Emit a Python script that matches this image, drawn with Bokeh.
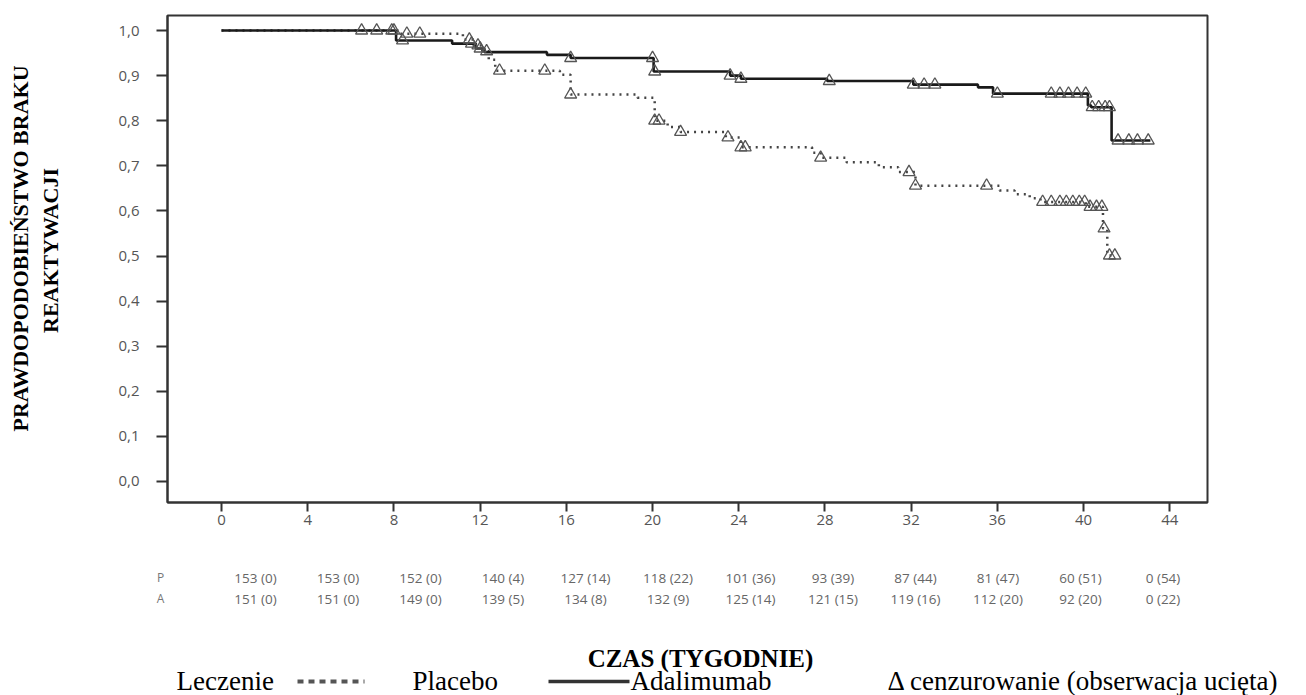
import math
import numpy as np
from bokeh.plotting import figure
from bokeh.layouts import row, column
from bokeh.models import Range1d, FixedTicker, CustomJSTickFormatter
from bokeh.core.properties import value
from bokeh.embed import file_html
from bokeh.resources import INLINE

# ---------------- data ----------------
adal_time = [0, 8.1, 10.7, 11.8, 12.2, 15.1, 16.2, 20.05, 23.6, 24.1, 28.1, 32.1, 35.1, 35.8, 40.2, 40.35, 41.3, 43.1]
adal_surv = [1.0, 0.978, 0.971, 0.960, 0.952, 0.946, 0.939, 0.909, 0.900, 0.893, 0.888, 0.880, 0.874, 0.860, 0.834, 0.830, 0.756, 0.756]
adal_censor = [8.0, 8.4, 11.6, 12.0, 16.2, 20.0, 20.1, 23.6, 24.1, 28.2, 32.1, 32.6, 33.1, 36.0,
               38.5, 38.9, 39.3, 39.7, 40.1, 40.4, 40.7, 41.0, 41.2, 41.6, 42.1, 42.5, 43.0]

plac_time = [0, 8.3, 11.2, 11.7, 12.1, 12.4, 12.7, 15.7, 16.2, 19.3, 20.1, 20.7, 21.3, 23.4, 24.1, 27.4, 27.8,
             29.0, 30.5, 31.4, 32.2, 36.1, 36.8, 37.5, 38.0, 40.1, 40.9, 41.1, 41.5]
plac_surv = [1.0, 0.993, 0.980, 0.967, 0.954, 0.935, 0.911, 0.902, 0.858, 0.851, 0.800, 0.786, 0.775, 0.763, 0.741, 0.729, 0.718,
             0.708, 0.697, 0.686, 0.656, 0.645, 0.637, 0.628, 0.620, 0.609, 0.561, 0.501, 0.501]
plac_censor = [6.5, 7.2, 7.9, 8.6, 9.2, 11.5, 11.9, 12.3, 12.9, 15.0, 16.2, 20.1, 20.3, 21.3, 23.5, 24.1, 24.3,
               27.8, 31.9, 32.2, 35.5, 38.1, 38.5, 38.9, 39.2, 39.5, 39.8, 40.05, 40.3, 40.6, 40.85, 40.95, 41.2, 41.45]

x_ticks = [0, 4, 8, 12, 16, 20, 24, 28, 32, 36, 40, 44]
y_ticks = [0.0, 0.1, 0.2, 0.3, 0.4, 0.5, 0.6, 0.7, 0.8, 0.9, 1.0]

risk_groups = ["P", "A"]
risk_p_n = [153, 153, 152, 140, 127, 118, 101, 93, 87, 81, 60, 0]
risk_p_c = [0, 0, 0, 4, 14, 22, 36, 39, 44, 47, 51, 54]
risk_a_n = [151, 151, 149, 139, 134, 132, 125, 121, 119, 112, 92, 0]
risk_a_c = [0, 0, 0, 5, 8, 9, 14, 15, 16, 20, 20, 22]

y_title_1 = "PRAWDOPODOBIEŃSTWO BRAKU"
y_title_2 = "REAKTYWACJI"
x_title = "CZAS (TYGODNIE)"
legend_texts = ["Leczenie", "Placebo", "Adalimumab", "Δ cenzurowanie (obserwacja ucięta)"]

# ---------------- layout geometry (page pixels) ----------------
W, H = 1306, 695
LW = 75                      # left strip holding the y title
MH = 530                     # main chart height
BH = H - MH                  # strip below: table, x title, legend
X0, X1 = -2.506, 45.75
Y0, Y1 = -0.0466, 1.0333
FL, FT, FR, FB = 167, 15, 1207, 502   # frame edges on the page

def dx(px):  # page px -> week units
    return X0 + (px - FL) / (FR - FL) * (X1 - X0)

def surv_at(times, surv, t):
    i = np.searchsorted(np.array(times), t, side="right") - 1
    return surv[max(i, 0)]

def bare(fig):
    fig.xgrid.visible = False
    fig.ygrid.visible = False
    fig.outline_line_color = None
    fig.background_fill_color = "white"
    fig.border_fill_color = "white"
    fig.title = None
    fig.frame_align = False

# ---------------- main chart ----------------
p = figure(width=W - LW, height=MH, output_backend="svg", toolbar_location=None,
           x_range=Range1d(X0, X1), y_range=Range1d(Y0, Y1),
           min_border_left=FL - LW, min_border_right=W - FR, min_border_top=FT, min_border_bottom=MH - FB)
p.title = None
p.frame_align = False
p.xgrid.visible = False
p.ygrid.visible = False
p.outline_line_color = "#333333"
p.outline_line_width = 2
p.background_fill_color = "white"
p.border_fill_color = "white"

for ax in (p.xaxis[0], p.yaxis[0]):
    ax.axis_line_color = "#333333"
    ax.axis_line_width = 2
    ax.major_tick_line_color = "#333333"
    ax.major_tick_line_width = 2
    ax.major_tick_in = 0
    ax.minor_tick_line_color = None
    ax.major_label_text_font = "Open Sans"
    ax.major_label_text_font_size = "15px"
    ax.major_label_text_color = "#555555"

p.xaxis[0].ticker = FixedTicker(ticks=x_ticks)
p.xaxis[0].major_tick_out = 9
p.xaxis[0].major_label_standoff = 3
p.yaxis[0].ticker = FixedTicker(ticks=y_ticks)
p.yaxis[0].major_tick_out = 11
p.yaxis[0].major_label_standoff = 17
p.yaxis[0].formatter = CustomJSTickFormatter(code="return tick.toFixed(1).replace('.', ',');")

p.step(plac_time, plac_surv, mode="after", line_color="#444444", line_width=2.5, line_dash="2 5")
p.step(adal_time, adal_surv, mode="after", line_color="#1a1a1a", line_width=2.6)

plac_cy = [surv_at(plac_time, plac_surv, t) for t in plac_censor]
adal_cy = [surv_at(adal_time, adal_surv, t) for t in adal_censor]
p.scatter(plac_censor, plac_cy, marker="triangle", size=12, fill_alpha=0,
          line_color="#555555", line_width=1.3)
p.scatter(adal_censor, adal_cy, marker="triangle", size=12, fill_alpha=0,
          line_color="#555555", line_width=1.3)

# ---------------- left strip: y title ----------------
serif = "Liberation Serif"
pl = figure(width=LW, height=H, output_backend="svg", toolbar_location=None,
            x_axis_type=None, y_axis_type=None, min_border=0,
            x_range=Range1d(0, LW), y_range=Range1d(H, 0))
bare(pl)
pl.text(x=[20, 50], y=[248, 250], text=[y_title_1, y_title_2], angle=math.pi / 2,
        text_font=value(serif), text_font_style="bold", text_font_size="22px",
        text_color="black", text_align="center", text_baseline="middle")

# ---------------- bottom strip: at-risk table, x title, legend ----------------
pb = figure(width=W - LW, height=BH, output_backend="svg", toolbar_location=None,
            x_axis_type=None, y_axis_type=None, min_border=0,
            x_range=Range1d(dx(LW), dx(W)), y_range=Range1d(BH, 0))
bare(pb)

row_p, row_a = 577 - MH, 598 - MH
col_x = [dx(255 + 82.5 * i) for i in range(len(x_ticks))]
pb.text(x=[dx(160)] * 2, y=[row_p, row_a], text=risk_groups,
        text_font=value("Open Sans"), text_font_size="12px", text_color="#777777",
        text_align="center", text_baseline="middle")
pb.text(x=col_x, y=[row_p] * len(col_x), text=[f"{n} ({c})" for n, c in zip(risk_p_n, risk_p_c)],
        text_font=value("Open Sans"), text_font_size="13.5px", text_color="#666666",
        text_align="center", text_baseline="middle")
pb.text(x=col_x, y=[row_a] * len(col_x), text=[f"{n} ({c})" for n, c in zip(risk_a_n, risk_a_c)],
        text_font=value("Open Sans"), text_font_size="13.5px", text_color="#666666",
        text_align="center", text_baseline="middle")

pb.text(x=[dx(700)], y=[658 - MH], text=[x_title], text_font=value(serif), text_font_style="bold",
        text_font_size="25px", text_color="black", text_align="center", text_baseline="middle")

lm = 680 - MH
pb.text(x=[dx(176), dx(412), dx(630), dx(887)], y=[lm] * 4, text=legend_texts,
        text_font=value(serif), text_font_size="27px", text_color="black",
        text_align="left", text_baseline="middle")
pb.segment(x0=[dx(297)], y0=[lm + 1], x1=[dx(364)], y1=[lm + 1], line_color="#555555", line_width=4, line_dash="6 5")
pb.segment(x0=[dx(548)], y0=[lm + 1], x1=[dx(629)], y1=[lm + 1], line_color="#333333", line_width=3.5)

layout = row(pl, column(p, pb, spacing=0), spacing=0)
open("out.html", "w").write(file_html(layout, INLINE))
